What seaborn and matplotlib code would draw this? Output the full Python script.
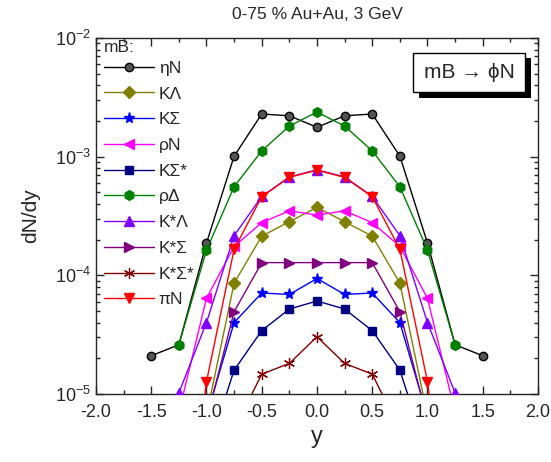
import numpy as np
import pandas as pd
import matplotlib
matplotlib.use('Agg')
import matplotlib.pyplot as plt
import matplotlib.patheffects as pe
import seaborn as sns

sns.set_style('ticks')
plt.rcParams['font.family'] = ['Liberation Sans', 'DejaVu Sans']
plt.rcParams['mathtext.fontset'] = 'custom'
plt.rcParams['mathtext.rm'] = 'Liberation Sans'

# rapidity points
y_pts = [-1.5, -1.25, -1.0, -0.75, -0.5, -0.25, 0.0, 0.25, 0.5, 0.75, 1.0, 1.25, 1.5]

# dN/dy per channel (nan = not drawn)
etaN   = [2.1e-5, 2.6e-5, 1.87e-4, 1.01e-3, 2.29e-3, 2.21e-3, 1.77e-3, 2.21e-3, 2.29e-3, 1.01e-3, 1.87e-4, 2.6e-5, 2.1e-5]
KLam   = [np.nan, np.nan, 6.6e-6, 8.6e-5, 2.14e-4, 2.83e-4, 3.74e-4, 2.83e-4, 2.14e-4, 8.6e-5, 6.6e-6, np.nan, np.nan]
KSig   = [np.nan, np.nan, 6.5e-6, 4.0e-5, 7.1e-5, 6.9e-5, 9.4e-5, 6.9e-5, 7.1e-5, 4.0e-5, 6.5e-6, np.nan, np.nan]
rhoN   = [np.nan, 7.0e-6, 6.4e-5, 1.75e-4, 2.78e-4, 3.5e-4, 3.22e-4, 3.5e-4, 2.78e-4, 1.75e-4, 6.4e-5, 7.0e-6, np.nan]
KSigS  = [np.nan, np.nan, 3.0e-6, 1.59e-5, 3.42e-5, 5.2e-5, 6.08e-5, 5.2e-5, 3.42e-5, 1.59e-5, 3.0e-6, np.nan, np.nan]
rhoDel = [np.nan, 2.6e-5, 1.63e-4, 5.58e-4, 1.12e-3, 1.81e-3, 2.38e-3, 1.81e-3, 1.12e-3, 5.58e-4, 1.63e-4, 2.6e-5, np.nan]
KSLam  = [np.nan, 1.02e-5, 4.0e-5, 2.16e-4, 4.62e-4, 6.75e-4, 7.75e-4, 6.75e-4, 4.62e-4, 2.16e-4, 4.0e-5, 1.02e-5, np.nan]
KSSig  = [np.nan, np.nan, 6.0e-6, 4.94e-5, 1.28e-4, 1.28e-4, 1.28e-4, 1.28e-4, 1.28e-4, 4.94e-5, 6.0e-6, np.nan, np.nan]
KSSigS = [np.nan, np.nan, np.nan, 5.0e-6, 1.47e-5, 1.81e-5, 3.04e-5, 1.81e-5, 1.47e-5, 5.0e-6, np.nan, np.nan, np.nan]
piN    = [np.nan, 2.0e-7, 1.27e-5, 1.66e-4, 4.6e-4, 6.7e-4, 7.7e-4, 6.7e-4, 4.6e-4, 1.66e-4, 1.27e-5, 2.0e-7, np.nan]

names = ['ηN', 'KΛ', 'KΣ', 'ρN', 'KΣ*', 'ρΔ', 'K*Λ', 'K*Σ', 'K*Σ*', 'πN']
series = [etaN, KLam, KSig, rhoN, KSigS, rhoDel, KSLam, KSSig, KSSigS, piN]
colors = ['black', '#808000', '#0000ff', '#ff00ff', '#000080', '#008000', '#8000ff', '#800080', '#800000', '#ff0000']
markers = ['o', 'D', '*', '<', 's', 'h', '^', '>', (6, 2, 0), 'v']
msizes = [6, 6, 8, 7, 6, 7, 7, 7, 8, 7]

rows = []
for nm, vals in zip(names, series):
    for xv, vv in zip(y_pts, vals):
        if not np.isnan(vv):
            rows.append((nm, xv, vv))
df = pd.DataFrame(rows, columns=['ch', 'y', 'dndy'])

fig = plt.figure(figsize=(5.51, 4.62), dpi=100)
ax = fig.add_axes([0.1742, 0.1472, 0.8022, 0.7705])

for i, nm in enumerate(names):
    sub = df[df['ch'] == nm]
    mfc = '#555555' if nm == 'ηN' else colors[i]
    sns.lineplot(data=sub, x='y', y='dndy', ax=ax, color=colors[i], marker=markers[i],
                 markersize=msizes[i], markerfacecolor=mfc, markeredgecolor=colors[i],
                 markeredgewidth=1.0 if nm != 'K*Σ*' else 0.9, linewidth=1.0,
                 label=nm, zorder=3 + i * 0.1)

ax.set_yscale('log')
ax.set_xlim(-2.0, 2.0)
ax.set_ylim(1e-5, 1e-2)
ax.set_xticks(np.arange(-2.0, 2.01, 0.5))
ax.set_xticklabels([f'{v:.1f}' for v in np.arange(-2.0, 2.01, 0.5)])
ax.set_xticks(np.arange(-2.0, 2.01, 0.25), minor=True)
ax.tick_params(which='both', direction='in', top=True, right=True, labelsize=13, width=1)
ax.tick_params(axis='x', which='major', pad=7)
ax.tick_params(which='major', length=6)
ax.tick_params(which='minor', length=3)
for sp in ax.spines.values():
    sp.set_linewidth(1.0)

ax.set_xlabel('y', fontsize=17, labelpad=4)
ax.set_ylabel('dN/dy', fontsize=15, labelpad=11)
ax.set_title('0-75 % Au+Au, 3 GeV', fontsize=12.5, pad=14)

leg = ax.legend(title='mB:', loc='upper left', bbox_to_anchor=(0.01, 1.004), frameon=False,
                fontsize=12.5, title_fontsize=12.5, handlelength=2.9, labelspacing=0.61,
                handletextpad=0.25, borderaxespad=0.0, borderpad=0.2, alignment='left')
leg._legend_box.sep = 4

# box with drop shadow
t = ax.text(0.947, 0.93, 'mB → ϕN', transform=ax.transAxes, ha='right', va='top', fontsize=15,
            bbox=dict(boxstyle='square,pad=0.5', fc='white', ec='black', lw=1), zorder=9)
t.get_bbox_patch().set_path_effects([
    pe.withSimplePatchShadow(offset=(4, -4), shadow_rgbFace='black', alpha=1.0)])

fig.savefig('out.png', dpi=100)
